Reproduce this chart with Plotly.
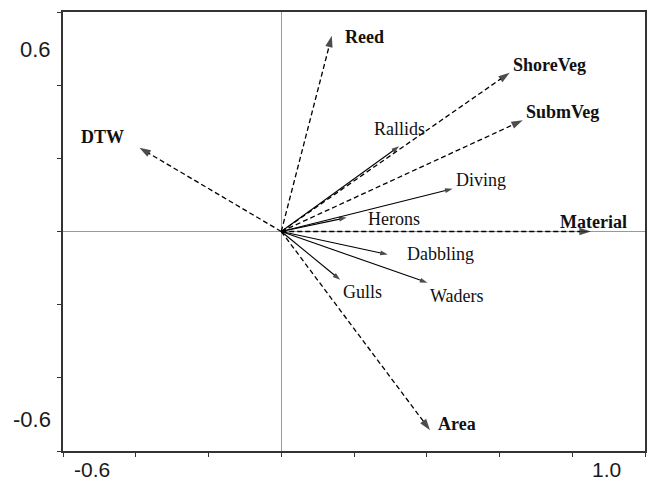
import plotly.graph_objects as go

# ---- data ----
env_names = ["Reed", "ShoreVeg", "SubmVeg", "DTW", "Material", "Area"]
env_x = [0.139, 0.628, 0.664, -0.390, 0.851, 0.409]
env_y = [0.535, 0.434, 0.304, 0.229, 0.000, -0.543]

spp_names = ["Rallids", "Diving", "Herons", "Dabbling", "Gulls", "Waders"]
spp_x = [0.324, 0.471, 0.180, 0.293, 0.162, 0.402]
spp_y = [0.233, 0.117, 0.038, -0.063, -0.132, -0.140]

x_tick_vals = [-0.6, 1.0]
x_tick_labels = ["-0.6", "1.0"]
y_tick_vals = [0.6, -0.6]
y_tick_labels = ["0.6", "-0.6"]

# ---- label placement (pixel offsets from arrow tips) ----
label_pos = {
    "Reed": ("left", 11, -1),
    "ShoreVeg": ("left", 1, 8),
    "SubmVeg": ("left", 1, 8),
    "DTW": ("right", -13, 11),
    "Material": ("center", 3, 10),
    "Area": ("left", 6, 6),
    "Rallids": ("center", 0, 17),
    "Diving": ("left", 1, 9),
    "Herons": ("left", 19, -1),
    "Dabbling": ("left", 17, 1),
    "Gulls": ("left", 1, -12),
    "Waders": ("left", 1, -13),
}

fig = go.Figure()

for name, x, y in zip(env_names, env_x, env_y):
    fig.add_trace(go.Scatter(
        x=[0, x], y=[0, y], mode="lines+markers",
        line=dict(color="#000", width=1.3, dash="5px,3px"),
        marker=dict(symbol="arrow", size=[0, 12], angleref="previous",
                    color="#000", line=dict(width=0)),
        hoverinfo="skip", showlegend=False))

for name, x, y in zip(spp_names, spp_x, spp_y):
    fig.add_trace(go.Scatter(
        x=[0, x], y=[0, y], mode="lines+markers",
        line=dict(color="#000", width=1.1),
        marker=dict(symbol="arrow", size=[0, 8], angleref="previous",
                    color="#000", line=dict(width=0)),
        hoverinfo="skip", showlegend=False))

annotations = []
for name, x, y in zip(env_names, env_x, env_y):
    xa, xs, ys = label_pos[name]
    annotations.append(dict(
        x=x, y=y, xref="x", yref="y", text="<b>" + name + "</b>",
        showarrow=False, xanchor=xa, yanchor="middle", xshift=xs, yshift=ys,
        font=dict(family="Liberation Serif", size=18, color="#111")))
for name, x, y in zip(spp_names, spp_x, spp_y):
    xa, xs, ys = label_pos[name]
    annotations.append(dict(
        x=x, y=y, xref="x", yref="y", text=name,
        showarrow=False, xanchor=xa, yanchor="middle", xshift=xs, yshift=ys,
        font=dict(family="Liberation Serif", size=18, color="#111")))

# axis end labels placed inward of the end ticks
x_shifts = [29, -39]
for v, t, s in zip(x_tick_vals, x_tick_labels, x_shifts):
    annotations.append(dict(
        x=v, y=0, xref="x", yref="paper", text=t, showarrow=False,
        xanchor="center", yanchor="top", xshift=s, yshift=-6,
        borderpad=0,
        font=dict(family="Liberation Sans", size=21, color="#1a1a1a")))
y_shifts = [-37, 32]
for v, t, s in zip(y_tick_vals, y_tick_labels, y_shifts):
    annotations.append(dict(
        x=0, y=v, xref="paper", yref="y", text=t, showarrow=False,
        xanchor="right", yanchor="middle", xshift=-10, yshift=s,
        font=dict(family="Liberation Sans", size=22, color="#1a1a1a")))

axis_common = dict(
    showgrid=False, zeroline=True, zerolinecolor="#999", zerolinewidth=1,
    showline=True, mirror=True, linecolor="#333", linewidth=1.5,
    ticks="outside", ticklen=4, tickwidth=1, tickcolor="#333",
    showticklabels=False)

fig.update_layout(
    width=649, height=482,
    margin=dict(l=63, r=2, t=12, b=31),
    plot_bgcolor="white", paper_bgcolor="white",
    showlegend=False,
    xaxis=dict(range=[-0.6, 1.0], tickvals=[-0.6, -0.4, -0.2, 0.0, 0.2, 0.4, 0.6, 0.8, 1.0],
               **axis_common),
    yaxis=dict(range=[-0.6, 0.6], tickvals=[-0.6, -0.4, -0.2, 0.0, 0.2, 0.4, 0.6],
               **axis_common),
    annotations=annotations,
)

fig.write_html("out.html", config={"displayModeBar": False},
               post_script="document.body.style.margin='0';document.body.style.padding='0';")
